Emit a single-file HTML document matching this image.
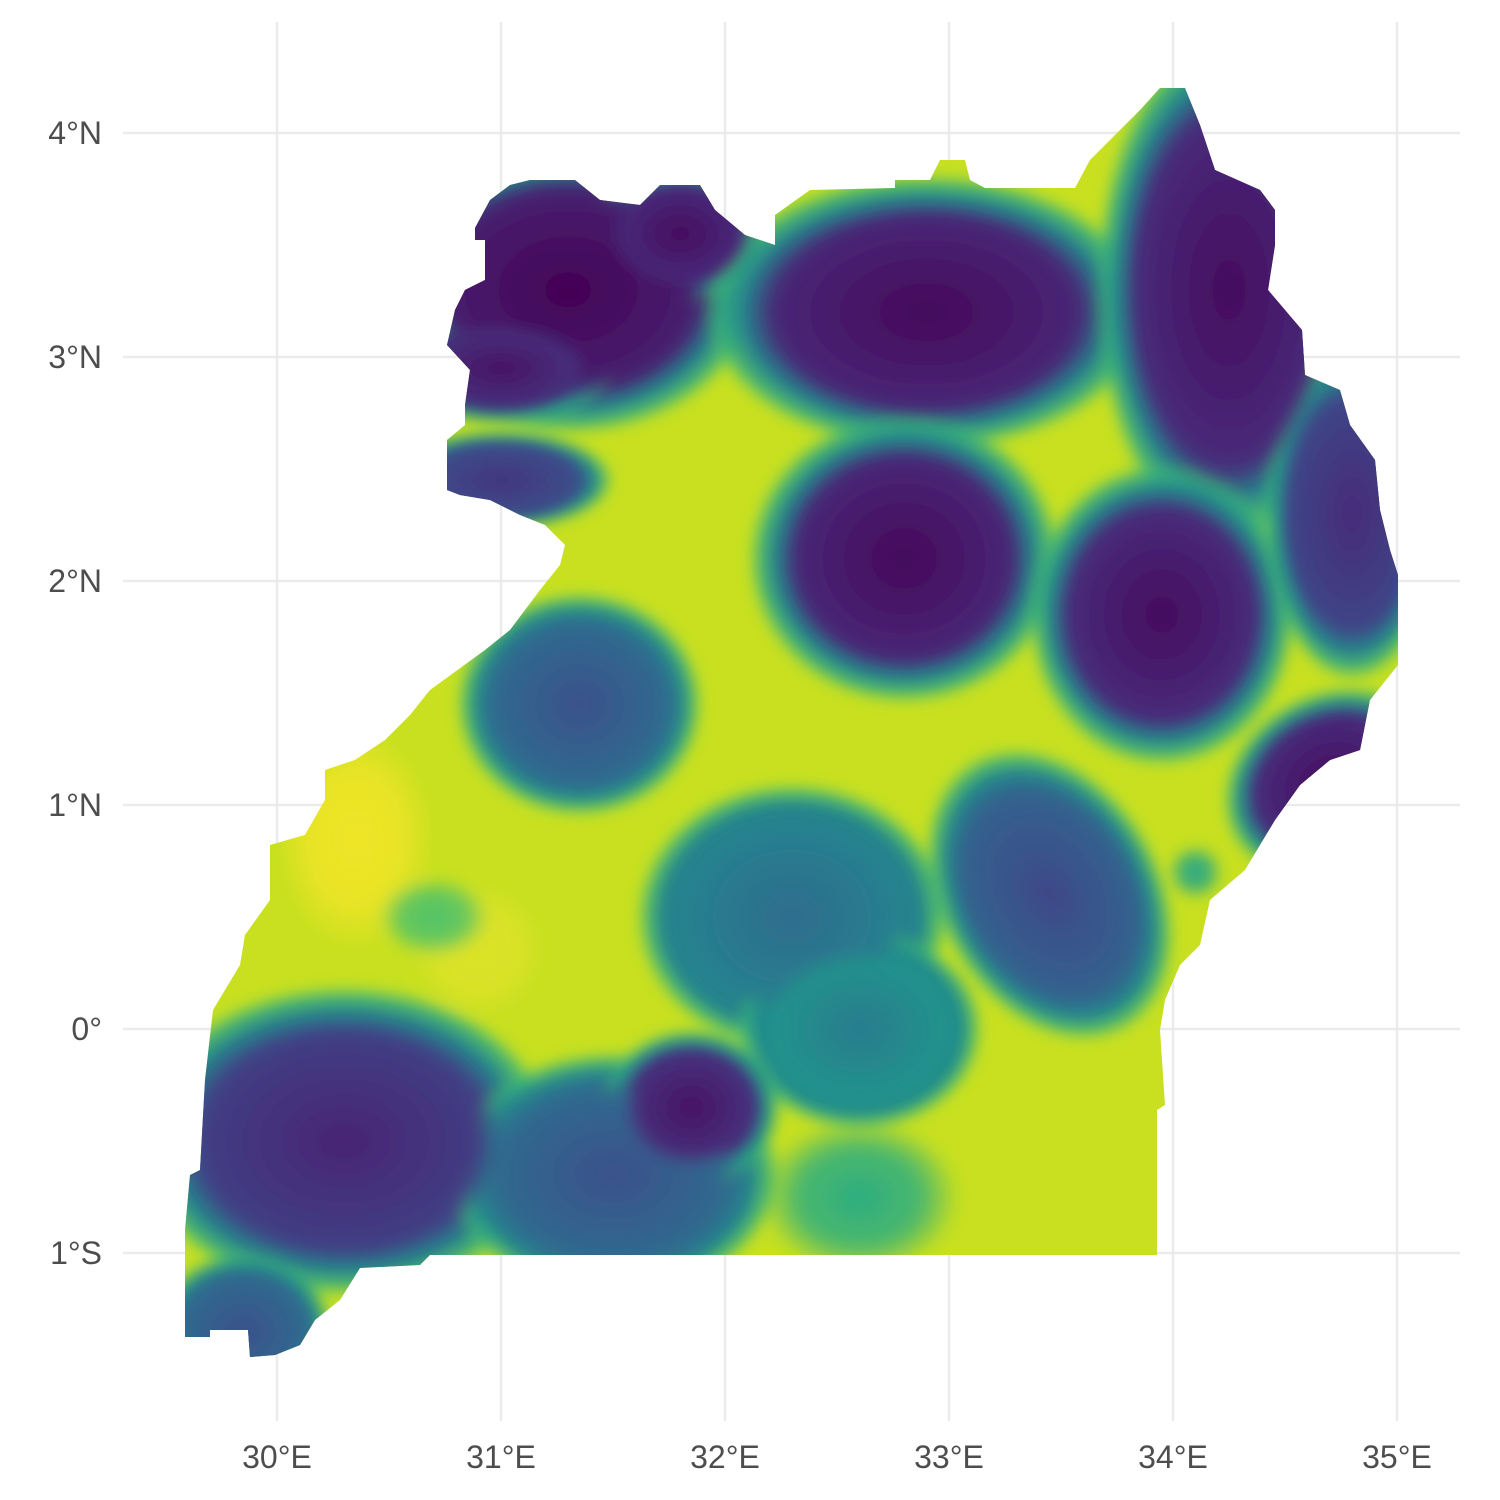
<!DOCTYPE html>
<html><head><meta charset="utf-8"><style>
html,body{margin:0;padding:0;background:#fff}
svg{display:block}
text{font-family:"Liberation Sans",sans-serif;font-size:32px;fill:#4d4d4d}
</style></head><body>
<svg id="chart" width="1500" height="1500" viewBox="0 0 1500 1500">
<defs>
<filter id="blur" x="-20%" y="-20%" width="140%" height="140%"><feGaussianBlur stdDeviation="7"/></filter>
<clipPath id="clip"><polygon id="outline" points=""/></clipPath>
</defs>
<g id="grid"></g>
<g clip-path="url(#clip)">
<rect x="0" y="0" width="1500" height="1500" fill="#c8e020"/>
<g id="blobs" filter="url(#blur)"></g>
<g id="cores" filter="url(#blur)"></g>
</g>
<g id="labels"></g>
</svg>
<script>
const xTicks=[30,31,32,33,34,35];
const xTickLabels=["30°E","31°E","32°E","33°E","34°E","35°E"];
const yTicks=[4,3,2,1,0,-1];
const yTickLabels=["4°N","3°N","2°N","1°N","0°","1°S"];
const blobLon=[30.35,30.9,32.6,31.3,31.0,31.8,31.0,32.9,34.25,32.8,33.95,34.8,34.7,31.35,33.45,32.3,32.6,30.3,31.5,31.85,29.85,30.7,34.1];
const blobLat=[0.85,0.35,-0.75,3.3,2.95,3.55,2.45,3.2,3.3,2.1,1.85,2.3,1.1,1.45,0.6,0.5,0.0,-0.5,-0.65,-0.35,-1.35,0.5,0.7];
const blobRx=[0.35,0.3,0.45,0.85,0.5,0.4,0.5,1.0,0.6,0.7,0.6,0.4,0.5,0.55,0.5,0.7,0.55,0.95,0.75,0.4,0.4,0.25,0.12];
const blobRy=[0.5,0.3,0.35,0.65,0.25,0.3,0.22,0.62,1.15,0.65,0.68,0.75,0.4,0.5,0.7,0.6,0.45,0.7,0.55,0.35,0.35,0.18,0.12];
const blobVal=[0.98,0.95,0.62,0.0,0.05,0.03,0.15,0.02,0.03,0.02,0.03,0.12,0.03,0.25,0.22,0.35,0.42,0.1,0.25,0.05,0.25,0.72,0.6];
const blobRot=[0,0,0,0,0,0,0,0,0,0,0,0,-30,0,-30,0,0,0,0,0,0,0,0];
const outlinePx=[[475,228],[490,200],[510,185],[530,180],[575,180],[600,200],[640,205],[660,185],[700,185],[715,210],[745,235],[775,245],[775,215],[810,190],[895,188],[895,180],[930,180],[940,160],[965,160],[970,180],[985,188],[1075,188],[1090,160],[1140,110],[1160,88],[1185,88],[1200,125],[1215,170],[1260,190],[1275,210],[1275,245],[1268,290],[1285,310],[1302,330],[1305,375],[1340,390],[1350,425],[1375,460],[1380,510],[1390,550],[1398,575],[1398,665],[1370,700],[1360,750],[1330,760],[1300,785],[1275,820],[1245,870],[1210,900],[1200,945],[1180,965],[1165,1000],[1160,1030],[1165,1105],[1157,1110],[1157,1255],[430,1255],[420,1265],[360,1268],[340,1300],[315,1320],[300,1345],[275,1355],[250,1357],[248,1330],[210,1330],[210,1337],[185,1337],[185,1230],[190,1175],[200,1170],[205,1080],[213,1010],[240,965],[245,935],[270,900],[270,845],[305,835],[325,800],[325,770],[355,760],[385,740],[410,715],[430,690],[485,650],[510,630],[540,590],[560,565],[565,545],[545,525],[520,515],[490,500],[460,495],[447,490],[447,440],[465,425],[465,405],[470,370],[447,345],[455,310],[465,290],[485,280],[485,240],[475,240]];
const NS="http://www.w3.org/2000/svg";
function x(lon){return 277+(lon-30)*224;}
function y(lat){return 1029-lat*224;}
const vir=[[68,1,84],[72,40,120],[62,73,137],[49,104,142],[38,130,142],[31,158,137],[53,183,121],[110,206,88],[181,222,43],[253,231,37]];
function viridis(t){t=Math.max(0,Math.min(1,t))*9;const i=Math.min(8,Math.floor(t)),f=t-i;const a=vir[i],b=vir[i+1];return `rgb(${a.map((v,k)=>Math.round(v+(b[k]-v)*f)).join(',')})`;}
document.getElementById('outline').setAttribute('points',outlinePx.map(p=>p.join(',')).join(' '));
const grid=document.getElementById('grid');
xTicks.forEach(v=>{const l=document.createElementNS(NS,'line');l.setAttribute('x1',x(v));l.setAttribute('x2',x(v));l.setAttribute('y1',22);l.setAttribute('y2',1421);l.setAttribute('stroke','#ebebeb');l.setAttribute('stroke-width','2.5');


grid.appendChild(l);});
yTicks.forEach(v=>{const l=document.createElementNS(NS,'line');l.setAttribute('x1',123);l.setAttribute('x2',1460);l.setAttribute('y1',y(v));l.setAttribute('y2',y(v));l.setAttribute('stroke','#ebebeb');l.setAttribute('stroke-width','2.5');


grid.appendChild(l);});
const defs=document.querySelector('defs');const blobs=document.getElementById('blobs');const cores=document.getElementById('cores');
function addGrad(id,stops){const g=document.createElementNS(NS,'radialGradient');g.setAttribute('id',id);
stops.forEach(s=>{const st=document.createElementNS(NS,'stop');st.setAttribute('offset',s[0]);st.setAttribute('stop-color',viridis(s[1]));st.setAttribute('stop-opacity',s[2]);g.appendChild(st);});
defs.appendChild(g);}
function addEllipse(parent,i,grad){const e=document.createElementNS(NS,'ellipse');const cx=x(blobLon[i]),cy=y(blobLat[i]);
e.setAttribute('cx',cx);e.setAttribute('cy',cy);e.setAttribute('rx',blobRx[i]*224);e.setAttribute('ry',blobRy[i]*224);
e.setAttribute('transform',`rotate(${blobRot[i]} ${cx} ${cy})`);e.setAttribute('fill',`url(#${grad})`);


parent.appendChild(e);}
blobLon.forEach((lon,i)=>{const v=blobVal[i];
const stops=v<0.5?[[0,v,1],[0.65,v+0.08,1],[0.82,Math.max(v,0.4)+0.05,1],[0.93,0.65,0.8],[1,0.8,0]]:[[0,v,1],[0.6,v,0.8],[1,v,0]];
addGrad('g'+i,stops);addEllipse(blobs,i,'g'+i);
if(v<0.5){addGrad('c'+i,[[0,v,1],[0.62,v+0.08,1],[0.76,v+0.14,0]]);addEllipse(cores,i,'c'+i);}
});
const labels=document.getElementById('labels');
xTicks.forEach((v,i)=>{const t=document.createElementNS(NS,'text');t.setAttribute('x',x(v));t.setAttribute('y',1468);t.setAttribute('text-anchor','middle');t.textContent=xTickLabels[i];


labels.appendChild(t);});
yTicks.forEach((v,i)=>{const t=document.createElementNS(NS,'text');t.setAttribute('x',102);t.setAttribute('y',y(v)+11);t.setAttribute('text-anchor','end');t.textContent=yTickLabels[i];


labels.appendChild(t);});
</script>
</body></html>
